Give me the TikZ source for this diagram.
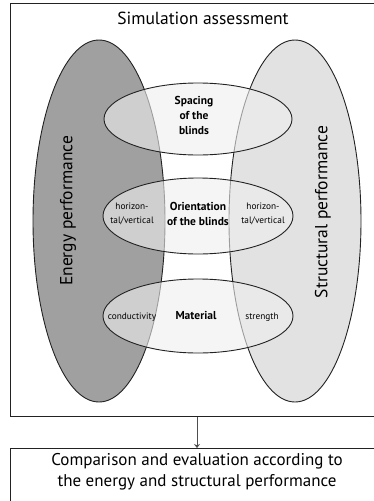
\documentclass[tikz,border=0pt]{standalone}
\usepackage{fontspec}
\setmainfont{PT Sans}
\usetikzlibrary{shapes.geometric,arrows.meta}
\definecolor{darkfill}{HTML}{A0A0A0}
\definecolor{lightfill}{HTML}{E2E2E2}
\definecolor{midfill}{HTML}{EFEFEF}
\definecolor{edge}{HTML}{222222}
\begin{document}
\begin{tikzpicture}[x=1pt,y=-1pt,
  bigell/.style={ellipse,draw=edge,line width=0.9pt,inner sep=0pt,minimum width=132pt,minimum height=362pt},
  smallell/.style={ellipse,draw=edge,line width=0.9pt,fill=midfill,fill opacity=0.6,inner sep=0pt},
  frame/.style={draw=edge,line width=0.8pt},
  biglabel/.style={font=\fontsize{17.5}{20}\selectfont,inner sep=0pt},
  boldlabel/.style={font=\fontsize{11.5}{15}\selectfont\bfseries,align=center,inner sep=0pt},
  smalllabel/.style={font=\fontsize{9.3}{13.5}\selectfont,align=center,inner sep=0pt},
  arr/.style={draw=edge!80,line width=0.8pt,-{Stealth[length=4pt,width=6pt]}}]
\useasboundingbox (0,0) rectangle (373,501);
\fill[white] (0,0) rectangle (373,501);
% frames
\node[frame,minimum width=370pt,minimum height=413pt,anchor=north west,inner sep=0pt] (top) at (10,3) {};
\node[frame,minimum width=370pt,minimum height=70pt,anchor=north west,inner sep=0pt] (bot) at (10,448) {};
\node[biglabel] (title) at (203,18) {Simulation assessment};
% big ellipses
\node[bigell,fill=darkfill] (energy) at (99,221) {};
\node[bigell,fill=lightfill] (struct) at (295,221) {};
\node[biglabel,rotate=90] (elab) at (68,211) {Energy performance};
\node[biglabel,rotate=90] (slab) at (323,212) {Structural performance};
% middle ellipses
\node[smallell,minimum width=188pt,minimum height=72pt] (spacing) at (198,119) {};
\node[smallell,minimum width=190pt,minimum height=76pt] (orient) at (198,216) {};
\node[smallell,minimum width=190pt,minimum height=74pt] (material) at (198,316) {};
% labels
\node[boldlabel] (sp) at (194,115) {Spacing\\of the\\blinds};
\node[boldlabel] (or) at (198,214) {Orientation\\of the blinds};
\node[smalllabel] (hl) at (132,214) {horizon-\\tal/vertical};
\node[smalllabel] (hr) at (263,214) {horizon-\\tal/vertical};
\node[boldlabel] (mat) at (196,315) {Material};
\node[smalllabel] (cond) at (132,317) {conductivity};
\node[smalllabel] (str) at (262,317) {strength};
% bottom text
\node[font=\fontsize{17}{21}\selectfont,align=center,inner sep=0pt] (cmp) at (197,472) {Comparison and evaluation according to\\the energy and structural performance};
% arrow
\draw[arr] (top.south -| 197,0) -- (bot.north -| 197,0);
\end{tikzpicture}
\end{document}
